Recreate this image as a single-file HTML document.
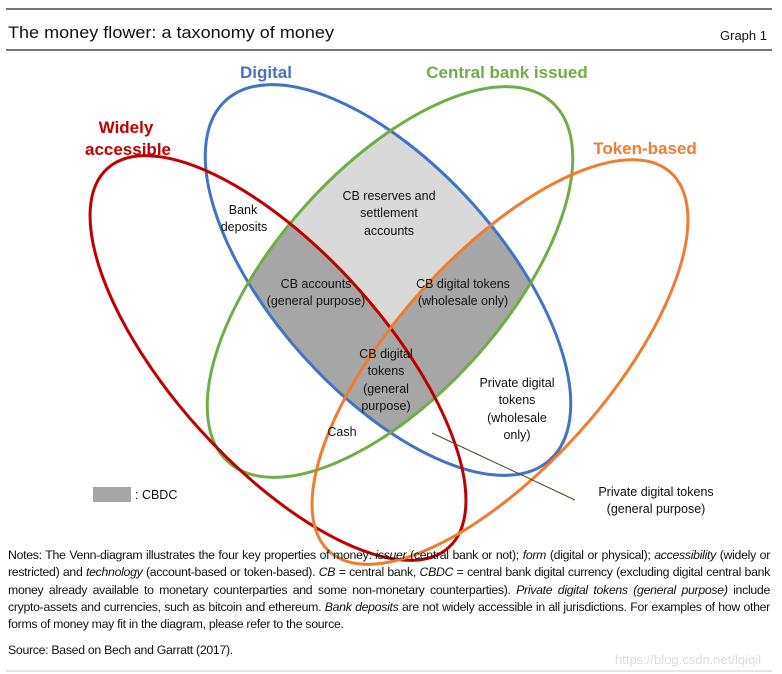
<!DOCTYPE html>
<html><head><meta charset="utf-8"><style>
body{margin:0;background:#fff;width:782px;height:674px;overflow:hidden;font-family:"Liberation Sans",sans-serif;}
.notes{position:absolute;left:8px;top:547px;width:762px;font-size:12.3px;line-height:17.3px;color:#111;text-align:justify;letter-spacing:-0.3px}
</style></head><body>
<svg width="782" height="674" style="position:absolute;left:0;top:0" font-family="Liberation Sans, sans-serif">
<defs>
<clipPath id="cg"><ellipse cx="390" cy="282" rx="242" ry="114" transform="rotate(-48 390 282)"/></clipPath>
<clipPath id="cb"><ellipse cx="388" cy="280" rx="242" ry="114" transform="rotate(48 388 280)"/></clipPath>
</defs>
<line x1="6" y1="9" x2="772" y2="9" stroke="#222" stroke-width="1.3"/>
<line x1="6" y1="50" x2="772" y2="50" stroke="#222" stroke-width="1.3"/>
<text x="8" y="38" font-size="17" fill="#111" textLength="326" lengthAdjust="spacingAndGlyphs">The money flower: a taxonomy of money</text>
<text x="767" y="40" font-size="13" fill="#111" text-anchor="end">Graph 1</text>
<g clip-path="url(#cg)"><ellipse cx="388" cy="280" rx="242" ry="114" transform="rotate(48 388 280)" fill="#d9d9d9"/>
<g clip-path="url(#cb)">
<ellipse cx="278" cy="358" rx="255" ry="106" transform="rotate(48 278 358)" fill="#a6a6a6"/>
<ellipse cx="500" cy="362" rx="255" ry="106" transform="rotate(-48 500 362)" fill="#a6a6a6"/>
</g></g>
<g fill="none" stroke-width="3">
<ellipse cx="388" cy="280" rx="242" ry="114" transform="rotate(48 388 280)" stroke="#4472c4"/>
<ellipse cx="390" cy="282" rx="242" ry="114" transform="rotate(-48 390 282)" stroke="#70ad47"/>
<ellipse cx="278" cy="358" rx="255" ry="106" transform="rotate(48 278 358)" stroke="#c00000"/>
<ellipse cx="500" cy="362" rx="255" ry="106" transform="rotate(-48 500 362)" stroke="#ed7d31"/>
</g>
<line x1="432" y1="433" x2="575" y2="500" stroke="#4f4a1e" stroke-width="1"/>
<g font-weight="bold" font-size="17">
<text x="266" y="78" fill="#4472c4" text-anchor="middle">Digital</text>
<text x="507" y="78" fill="#70ad47" text-anchor="middle">Central bank issued</text>
<text x="126" y="133" fill="#c00000" text-anchor="middle">Widely</text>
<text x="128" y="155" fill="#c00000" text-anchor="middle">accessible</text>
<text x="645" y="154" fill="#ed7d31" text-anchor="middle">Token-based</text>
</g>
<g font-size="12.5" fill="#111" text-anchor="middle">
<text x="243" y="214">Bank</text><text x="244" y="231">deposits</text>
<text x="389" y="200">CB reserves and</text><text x="389" y="217">settlement</text><text x="389" y="235">accounts</text>
<text x="316" y="288">CB accounts</text><text x="316" y="305">(general purpose)</text>
<text x="463" y="288">CB digital tokens</text><text x="463" y="305">(wholesale only)</text>
<text x="386" y="358">CB digital</text><text x="386" y="375">tokens</text><text x="386" y="393">(general</text><text x="386" y="410">purpose)</text>
<text x="342" y="436">Cash</text>
<text x="517" y="387">Private digital</text><text x="517" y="404">tokens</text><text x="517" y="422">(wholesale</text><text x="517" y="439">only)</text>
<text x="656" y="496">Private digital tokens</text><text x="656" y="513">(general purpose)</text>
</g>
<rect x="93" y="487" width="38" height="15" fill="#a6a6a6"/>
<text x="135" y="499" font-size="12.5" fill="#111">: CBDC</text>
<text x="688" y="664" font-size="13" fill="#ddd" text-anchor="middle">https://blog.csdn.net/lqiqil</text>
<line x1="6" y1="671" x2="772" y2="671" stroke="#ccc" stroke-width="1"/>
</svg>
<div class="notes">Notes: The Venn-diagram illustrates the four key properties of money: <i>issuer</i> (central bank or not); <i>form</i> (digital or physical); <i>accessibility</i> (widely or restricted) and <i>technology</i> (account-based or token-based). <i>CB</i> = central bank, <i>CBDC</i> = central bank digital currency (excluding digital central bank money already available to monetary counterparties and some non-monetary counterparties). <i>Private digital tokens (general purpose)</i> include crypto-assets and currencies, such as bitcoin and ethereum. <i>Bank deposits</i> are not widely accessible in all jurisdictions. For examples of how other forms of money may fit in the diagram, please refer to the source.<div style="margin-top:9px">Source: Based on Bech and Garratt (2017).</div></div>
</body></html>
